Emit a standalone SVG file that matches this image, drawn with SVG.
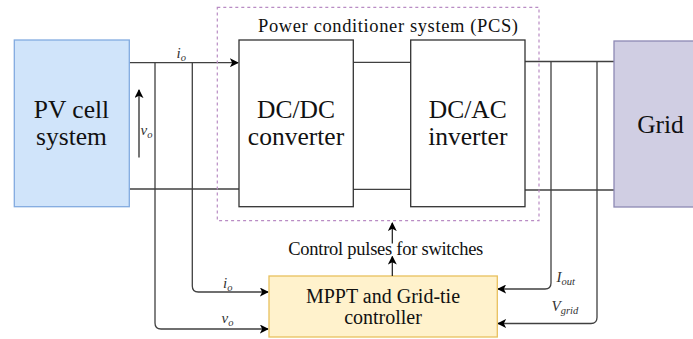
<svg xmlns="http://www.w3.org/2000/svg" width="693" height="339" viewBox="0 0 693 339">
<defs>
<style>
.box{fill:#ffffff;stroke:#333333;stroke-width:1.3}
.wire{fill:none;stroke:#404040;stroke-width:1.3}
.sig{fill:none;stroke:#1a1a1a;stroke-width:1.2}
text{font-family:"Liberation Serif","Times New Roman",serif}
.big{font-size:25.5px;fill:#111;text-anchor:middle}
.mid{font-size:20px;fill:#111;text-anchor:middle}
.sm{font-size:18.5px;fill:#111;text-anchor:middle}
.var{font-size:15px;font-style:italic;fill:#333}
.sub{font-size:10.5px}
</style>
<marker id="arr" viewBox="0 0 10 10" refX="9" refY="5" markerWidth="9" markerHeight="9" markerUnits="userSpaceOnUse" orient="auto">
<path d="M0,0 L10,5 L0,10 L2.5,5 Z" fill="#000"/>
</marker>
</defs>

<g id="connectors">
<line class="wire" x1="129" y1="62.7" x2="238" y2="62.7" marker-end="url(#arr)"/>
<line class="wire" x1="129" y1="189" x2="239" y2="189"/>
<line class="wire" x1="353" y1="62.3" x2="411" y2="62.3"/>
<line class="wire" x1="353" y1="189.3" x2="411" y2="189.3"/>
<line class="wire" x1="525" y1="61.5" x2="614" y2="61.5"/>
<line class="wire" x1="525" y1="190" x2="614" y2="190"/>
<line class="sig" x1="139" y1="157.5" x2="139" y2="90" marker-end="url(#arr)"/>
<path class="wire" d="M155,62.7 V323 Q155,329 161,329 H268" marker-end="url(#arr)"/>
<path class="wire" d="M192.3,62.7 V286 Q192.3,292 198.3,292 H268" marker-end="url(#arr)"/>
<path class="wire" d="M551,61.5 V283 Q551,289 545,289 H498" marker-end="url(#arr)"/>
<path class="wire" d="M597,61.5 V317.5 Q597,323.5 591,323.5 H498" marker-end="url(#arr)"/>
<line class="sig" x1="392.3" y1="243.5" x2="392.3" y2="223" marker-end="url(#arr)"/>
</g>

<g id="pcs">
<rect x="217.3" y="7.3" width="321.7" height="213.4" fill="none" stroke="#b98cc4" stroke-width="1.2" stroke-dasharray="3,3"/>
<text class="sm" x="388" y="31.5" textLength="260" lengthAdjust="spacing">Power conditioner system (PCS)</text>
</g>

<g id="pv">
<rect x="14.3" y="40" width="115" height="166.7" fill="#d0e4fa" stroke="#82abe0" stroke-width="1.3"/>
<text class="big" x="71.5" y="118.3">PV cell</text>
<text class="big" x="71.5" y="145">system</text>
</g>

<g id="dcdc">
<rect class="box" x="239" y="40" width="114.3" height="166.7"/>
<text class="big" x="296" y="118.3">DC/DC</text>
<text class="big" x="296" y="145">converter</text>
</g>

<g id="dcac">
<rect class="box" x="410.7" y="40" width="114.3" height="166.7"/>
<text class="big" x="467.8" y="118.3">DC/AC</text>
<text class="big" x="467.8" y="145">inverter</text>
</g>

<g id="grid">
<rect x="614" y="41" width="85" height="166" fill="#d0cee3" stroke="#8d89b4" stroke-width="1.3"/>
<text class="big" x="660.5" y="133.3">Grid</text>
</g>

<g id="controller">
<rect x="269" y="276" width="228.3" height="61" fill="#fff2cc" stroke="#e8c05e" stroke-width="1.3"/>
<text class="mid" x="383" y="303.3">MPPT and Grid-tie</text>
<text class="mid" x="383" y="324.3">controller</text>
</g>

<g id="control-label">
<text class="sm" x="385.8" y="255" textLength="195" lengthAdjust="spacing">Control pulses for switches</text>
<line class="sig" x1="392.3" y1="276" x2="392.3" y2="256.5" marker-end="url(#arr)"/>
</g>

<g id="labels">
<text class="var" x="176.5" y="58">i<tspan class="sub" dy="3">o</tspan></text>
<text class="var" x="140.5" y="135">v<tspan class="sub" dy="3">o</tspan></text>
<text class="var" x="223" y="288">i<tspan class="sub" dy="3">o</tspan></text>
<text class="var" x="221.5" y="323">v<tspan class="sub" dy="3">o</tspan></text>
<text class="var" x="556.5" y="281.5">I<tspan class="sub" dy="3">out</tspan></text>
<text class="var" x="551.5" y="311">V<tspan class="sub" dy="3">grid</tspan></text>
</g>
</svg>
